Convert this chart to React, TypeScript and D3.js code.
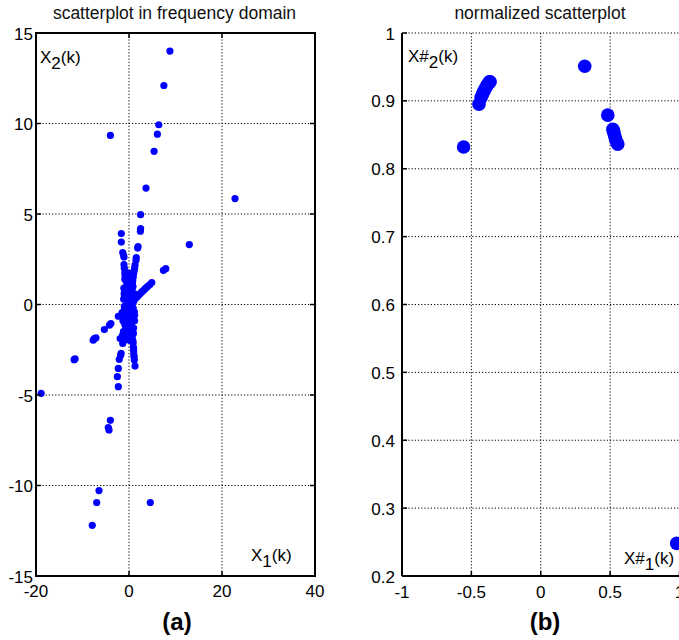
import React from 'react';
import * as d3 from 'd3';

const W = 679;
const H = 640;

// ---------- Panel (a): scatterplot in frequency domain ----------
const xTicksA = [-20, 0, 20, 40];
const yTicksA = [-15, -10, -5, 0, 5, 10, 15];

const freqX = [
  8.8, 7.5, 6.4, 6.1, 5.4, -4.0, 3.66, 22.8, 2.5, 2.5, 2.45, 12.97, 7.4, 7.9,
  -18.9, -4.0, -4.45, -4.3, -6.45, -6.95, -7.9, 4.58,
  // upper-left branch
  -1.65, -1.65, -1.35, -1.2, -1.08, -1.08, -1.0, -0.9, -0.85,
  // upper-right branch
  1.87, 1.95, 1.57, 1.5, 1.29, 1.2, 1.1, 1.0, 0.9, 0.8, 0.7,
  // diagonal up-right
  4.9, 4.5, 4.1, 3.8, 3.5, 3.2, 2.9, 2.6, 2.3, 2.0, 1.7, 1.4, 1.1,
  // diagonal down-left
  -2.3, -3.9, -4.2, -5.3, -7.45, -7.1, -7.7, -11.6, -11.8, -1.5, -1.0,
  // lower-left branch
  -1.9, -1.35, -1.8, -1.7, -2.1, -2.3, -2.5, -2.3, -1.4, -1.2,
  // lower-right branch
  0.8, 0.93, 1.0, 1.05, 1.15, 1.29, 0.9, 1.0, 1.1,
  // central band
  -0.6, -0.3, 0.2, 0.5, -0.5, 0.0, 0.4, -0.4, 0.1, 0.6, -0.7, -0.2, 0.3, 0.8,
  -0.5, 0.0, 0.5, -0.8, -0.3, 0.2, 0.7, -0.6, -0.1, 0.4, 0.9, -0.5, 0.0, 0.5,
  -0.7, -0.2, 0.3, 0.8, -0.4, 0.1, 0.6, -0.9, 1.0, -0.3, 0.7, -1.0, -1.2, 0.9,
  -0.65, 0.35, -0.15, 0.55,
  -0.9, -1.1, 1.1, 1.2, -1.0, 0.95, -1.15, 1.05, -0.85, 0.75, -1.3, 1.2,
  -0.95, 0.65, -0.75, 1.15, -1.05, 0.85, -0.55, 0.45,
];
const freqY = [
  14.0, 12.1, 9.93, 9.41, 8.46, 9.34, 6.43, 5.85, 4.96, 4.2, 4.05, 3.31, 1.89, 1.98,
  -4.91, -6.4, -6.8, -6.93, -10.28, -10.94, -12.2, -10.94,
  3.92, 3.45, 2.87, 2.75, 2.63, 2.2, 2.0, 1.75, 1.6,
  3.12, 3.2, 2.59, 2.45, 2.17, 2.0, 1.85, 1.7, 1.5, 1.3, 1.1,
  1.21, 1.1, 1.02, 0.95, 0.88, 0.8, 0.73, 0.66, 0.58, 0.5, 0.42, 0.35, 0.28,
  -0.65, -1.05, -1.14, -1.38, -1.88, -1.84, -1.97, -3.0, -3.05, -0.45, -0.3,
  -1.88, -2.15, -2.8, -2.7, -3.03, -3.53, -3.99, -4.54, -1.7, -1.5,
  -1.97, -2.34, -2.6, -2.8, -3.07, -3.4, -2.1, -2.45, -2.9,
  1.7, 1.6, 1.5, 1.4, 1.2, 1.1, 1.0, 0.8, 0.7, 0.6, 0.4, 0.3, 0.2, 0.1,
  0.0, 0.0, -0.1, -0.2, -0.3, -0.4, -0.5, -0.6, -0.7, -0.8, -0.9, -1.0, -1.1, -1.2,
  -1.3, -1.4, -1.5, -1.6, -1.7, -1.8, -1.9, -1.1, -1.3, 1.3, 0.9, -0.5, -0.8, -0.2,
  -1.95, -2.0, 1.75, 1.2,
  1.4, 0.9, 0.6, -0.6, -0.1, -1.6, 0.3, 0.2, -1.5, -1.4, -0.9, -0.9,
  0.5, -1.75, -1.6, -0.4, 0.6, 1.0, -1.2, -0.7,
];

// ---------- Panel (b): normalized scatterplot ----------
const xTicksB = [-1, -0.5, 0, 0.5, 1];
const yTicksB = [0.2, 0.3, 0.4, 0.5, 0.6, 0.7, 0.8, 0.9, 1];
const yLabelsB = ['0.2', '0.3', '0.4', '0.5', '0.6', '0.7', '0.8', '0.9', '1'];

const normX = [
  -0.556, -0.445, -0.43, -0.42, -0.41, -0.4, -0.39, -0.38, -0.37, -0.365,
  0.317, 0.483, 0.52, 0.525, 0.53, 0.535, 0.54, 0.548, 0.555, 0.98,
];
const normY = [
  0.832, 0.895, 0.905, 0.91, 0.914, 0.918, 0.922, 0.925, 0.928, 0.928,
  0.951, 0.879, 0.858, 0.855, 0.851, 0.847, 0.843, 0.839, 0.836, 0.248,
];

const FONT = '"Liberation Sans", Arial, sans-serif';
const BLUE = '#0000ff';
const GRID = '1.2 2';

export default function App() {
  const xA = d3.scaleLinear().domain([-20, 40]).range([36, 315]);
  const yA = d3.scaleLinear().domain([-15, 15]).range([576, 33]);
  const xB = d3.scaleLinear().domain([-1, 1]).range([402, 679.5]);
  const yB = d3.scaleLinear().domain([0.2, 1]).range([576, 33]);

  const tick = 5;
  const fs = 17;

  return (
    <svg
      width={W}
      height={H}
      viewBox={`0 0 ${W} ${H}`}
      style={{ position: 'absolute', left: 0, top: 0, background: '#fff', overflow: 'hidden' }}
      fontFamily={FONT}
    >
      <rect x={0} y={0} width={W} height={H} fill="#fff" />

      {/* ===== Panel (a) ===== */}
      <g>
        {xTicksA.slice(1, -1).map((v) => (
          <line key={'gxa' + v} x1={xA(v)} x2={xA(v)} y1={yA(15)} y2={yA(-15)}
            stroke="#000" strokeWidth={1} strokeDasharray={GRID} />
        ))}
        {yTicksA.slice(1, -1).map((v) => (
          <line key={'gya' + v} x1={xA(-20)} x2={xA(40)} y1={yA(v)} y2={yA(v)}
            stroke="#000" strokeWidth={1} strokeDasharray={GRID} />
        ))}
        {freqX.map((v, i) => (
          <circle key={'pa' + i} cx={xA(v)} cy={yA(freqY[i])} r={3.6} fill={BLUE} />
        ))}
        {xTicksA.map((v) => (
          <g key={'txa' + v}>
            <line x1={xA(v)} x2={xA(v)} y1={yA(-15)} y2={yA(-15) - tick} stroke="#000" strokeWidth={1.5} />
            <line x1={xA(v)} x2={xA(v)} y1={yA(15)} y2={yA(15) + tick} stroke="#000" strokeWidth={1.5} />
            <text x={xA(v)} y={597} textAnchor="middle" fontSize={fs} fill="#000">{v}</text>
          </g>
        ))}
        {yTicksA.map((v) => (
          <g key={'tya' + v}>
            <line x1={xA(-20)} x2={xA(-20) + tick} y1={yA(v)} y2={yA(v)} stroke="#000" strokeWidth={1.5} />
            <line x1={xA(40)} x2={xA(40) - tick} y1={yA(v)} y2={yA(v)} stroke="#000" strokeWidth={1.5} />
            <text x={33} y={yA(v) + 6.5} textAnchor="end" fontSize={fs} fill="#000">{v}</text>
          </g>
        ))}
        <rect x={xA(-20)} y={yA(15)} width={xA(40) - xA(-20)} height={yA(-15) - yA(15)}
          fill="none" stroke="#000" strokeWidth={2} />
        <text x={(xA(-20) + xA(40)) / 2 - 1} y={19} textAnchor="middle" fontSize={17.5} fill="#111">
          scatterplot in frequency domain
        </text>
        <text x={40} y={63} fontSize={fs} fill="#000">
          X<tspan dy={6}>2</tspan><tspan dy={-6}>(k)</tspan>
        </text>
        <text x={251} y={561} fontSize={fs} fill="#000">
          X<tspan dy={6}>1</tspan><tspan dy={-6}>(k)</tspan>
        </text>
        <text x={177} y={630} textAnchor="middle" fontSize={24} fontWeight="bold" fill="#000">(a)</text>
      </g>

      {/* ===== Panel (b) ===== */}
      <g>
        {xTicksB.slice(1).map((v) => (
          <line key={'gxb' + v} x1={xB(v)} x2={xB(v)} y1={yB(1)} y2={yB(0.2)}
            stroke="#000" strokeWidth={1} strokeDasharray={GRID} />
        ))}
        {yTicksB.slice(1).map((v) => (
          <line key={'gyb' + v} x1={xB(-1)} x2={xB(1)} y1={yB(v)} y2={yB(v)}
            stroke="#000" strokeWidth={1} strokeDasharray={GRID} />
        ))}
        {normX.map((v, i) => (
          <circle key={'pb' + i} cx={xB(v)} cy={yB(normY[i])} r={6.8} fill={BLUE} />
        ))}
        {xTicksB.map((v) => (
          <g key={'txb' + v}>
            <line x1={xB(v)} x2={xB(v)} y1={yB(0.2)} y2={yB(0.2) - tick} stroke="#000" strokeWidth={1.5} />
            <text x={xB(v)} y={598} textAnchor="middle" fontSize={fs} fill="#000">{String(v)}</text>
          </g>
        ))}
        {yTicksB.map((v, i) => (
          <g key={'tyb' + v}>
            <line x1={xB(-1)} x2={xB(-1) + tick} y1={yB(v)} y2={yB(v)} stroke="#000" strokeWidth={1.5} />
            <text x={395} y={yB(v) + 6.5} textAnchor="end" fontSize={fs} fill="#000">{yLabelsB[i]}</text>
          </g>
        ))}
        <line x1={xB(-1)} x2={xB(-1)} y1={yB(1)} y2={yB(0.2)} stroke="#000" strokeWidth={2} />
        <line x1={xB(-1)} x2={xB(1) + 2} y1={yB(0.2)} y2={yB(0.2)} stroke="#000" strokeWidth={2} />
        <text x={540} y={19} textAnchor="middle" fontSize={17.5} fill="#111">normalized scatterplot</text>
        <text x={408} y={62} fontSize={fs} fill="#000">
          X#<tspan dy={6}>2</tspan><tspan dy={-6}>(k)</tspan>
        </text>
        <text x={624} y={564} fontSize={fs} fill="#000">
          X#<tspan dy={6}>1</tspan><tspan dy={-6}>(k)</tspan>
        </text>
        <text x={545} y={630} textAnchor="middle" fontSize={24} fontWeight="bold" fill="#000">(b)</text>
      </g>
    </svg>
  );
}
